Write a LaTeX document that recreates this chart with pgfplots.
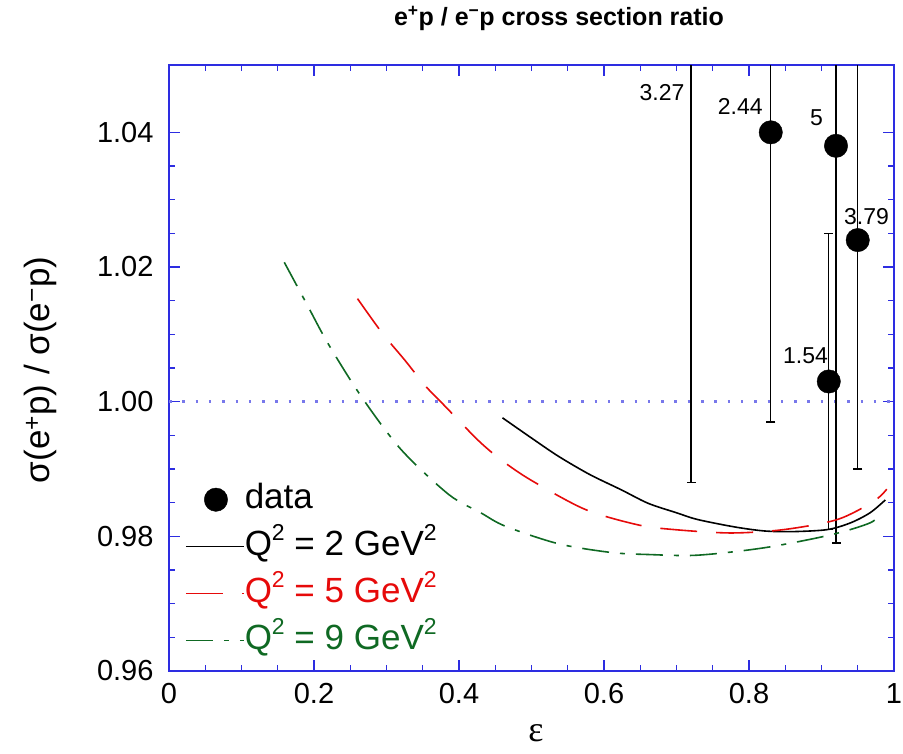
\documentclass[border=0pt]{standalone}
\usepackage{fontspec}
\setmainfont{Liberation Sans}
\newfontfamily\serifg{Liberation Serif}
\usepackage{pgfplots}
\pgfplotsset{compat=1.18}
\definecolor{frameblue}{RGB}{45,45,225}
\definecolor{dotblue}{RGB}{120,120,235}
\definecolor{cred}{RGB}{230,10,10}
\definecolor{cgreen}{RGB}{15,105,35}
\newcommand{\sq}{\raisebox{0.42em}{\fontsize{23}{23}\selectfont 2}}
\pgfplotsset{
  lineleg/.style={legend image code/.code={\draw[##1, line width=1.6pt] (0pt,0pt) -- (58pt,0pt);}},
  dataleg/.style={legend image code/.code={\draw[mark repeat=2,mark phase=2,##1] plot coordinates {(0pt,0pt) (30pt,0pt) (58pt,0pt)};}},
}
\begin{document}
\begin{tikzpicture}
\useasboundingbox (0,0) rectangle (903pt,753pt);
\begin{axis}[
  at={(169pt,82pt)}, anchor=south west,
  scale only axis, width=725pt, height=606pt,
  xmin=0, xmax=1, ymin=0.96, ymax=1.05,
  xtick={0,0.2,0.4,0.6,0.8,1},
  ytick={0.96,0.98,1.00,1.02,1.04},
  minor x tick num=3, minor y tick num=3,
  xtick pos=both, ytick pos=both,
  xticklabel pos=lower, yticklabel pos=left,
  tick align=inside,
  major tick length=11pt, minor tick length=6pt,
  tick style={color=frameblue, line width=1.2pt},
  axis line style={color=frameblue, line width=1.5pt},
  /pgf/number format/assume math mode=true,
  tick label style={font=\fontsize{29}{30}\selectfont},
  xticklabel style={yshift=-9pt},
  yticklabel style={xshift=-12pt, /pgf/number format/.cd, fixed, fixed zerofill, precision=2},
  legend style={draw=none, fill=none, at={(0.022,0.3086)}, anchor=north west,
    font=\fontsize{35}{35}\selectfont, inner sep=0pt, row sep=16pt,
    nodes={inner sep=0pt, text height=24pt, text depth=7pt},
    /tikz/every even column/.append style={column sep=7pt}},
  legend cell align=left,
]
% reference line
\addplot[dotblue, line width=2.5pt, dash pattern=on 2.5pt off 10.8pt, forget plot] coordinates {(0,1) (1,1)};

% data with error bars
\addplot[black, only marks, mark=*, mark size=11.7pt, dataleg,
  error bars/.cd, y dir=both, y explicit,
  error mark=-,
  error bar style={black, line width=1.4pt},
  error mark options={rotate=90, black, mark size=4.5pt, line width=1.4pt}]
  table[x=x, y=y, y error=e] {
x     y      e
0.72  1.070  0.082
0.83  1.040  0.043
0.91  1.003  0.022
0.92  1.038  0.059
0.95  1.024  0.034
};
\addlegendentry{data}

% Q2 = 2
\addplot[black, line width=1.6pt, smooth, lineleg] coordinates {
(0.460,0.9976) (0.500,0.9946) (0.537,0.9919) (0.580,0.9892) (0.624,0.9869)
(0.661,0.9849) (0.700,0.9835) (0.729,0.9825) (0.780,0.9814) (0.821,0.9808)
(0.860,0.9807) (0.908,0.9810) (0.940,0.9820) (0.967,0.9835) (0.988,0.9854)
};
\addlegendentry[text=black]{Q\sq{} = 2 GeV\sq}

% Q2 = 5
\addplot[cred, line width=1.6pt, smooth, lineleg, dash pattern=on 37pt off 19pt] coordinates {
(0.260,1.0153) (0.294,1.0102) (0.325,1.0062) (0.354,1.0023) (0.381,0.9993)
(0.427,0.9942) (0.460,0.9912) (0.500,0.9883) (0.574,0.9840) (0.647,0.9817)
(0.697,0.9810) (0.775,0.9805) (0.848,0.9810) (0.922,0.9825) (0.972,0.9852)
(0.990,0.9870)
};
\addlegendentry[text=cred]{Q\sq{} = 5 GeV\sq}

% Q2 = 9
\addplot[cgreen, line width=1.6pt, smooth, lineleg, dash pattern=on 27pt off 11pt on 5pt off 11pt] coordinates {
(0.159,1.0207) (0.190,1.0145) (0.219,1.0087) (0.265,1.0008) (0.320,0.9929)
(0.386,0.9862) (0.430,0.9835) (0.464,0.9815) (0.537,0.9789) (0.610,0.9776)
(0.661,0.9773) (0.729,0.9772) (0.821,0.9783) (0.912,0.9802) (0.967,0.9820)
(0.983,0.9835)
};
\addlegendentry[text=cgreen]{Q\sq{} = 9 GeV\sq}

% point labels
\begin{scope}[every node/.style={font=\fontsize{23}{23}\selectfont, inner sep=0pt}]
\node at (axis cs:0.680,1.0459) {3.27};
\node at (axis cs:0.788,1.0438) {2.44};
\node at (axis cs:0.893,1.0421) {5};
\node at (axis cs:0.962,1.0275) {3.79};
\node at (axis cs:0.878,1.0068) {1.54};
\end{scope}
\end{axis}
% title and axis labels
\node[font=\bfseries\fontsize{25}{25}\selectfont, inner sep=0pt] at (559pt,735pt)
  {e\textsuperscript{+}p / e\textsuperscript{−}p cross section ratio};
\node[font=\fontsize{35}{35}\selectfont, rotate=90, inner sep=0pt] at (40pt,383pt)
  {σ(e\textsuperscript{+}p) / σ(e\textsuperscript{−}p)};
\node[font=\serifg\fontsize{36}{36}\selectfont, inner sep=0pt] at (536pt,20pt) {ε};
\end{tikzpicture}
\end{document}
